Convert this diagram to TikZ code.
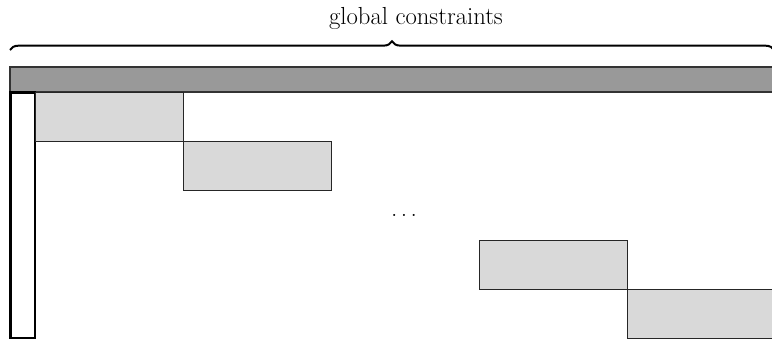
\documentclass[tikz,border=0pt]{standalone}
\usetikzlibrary{decorations.pathreplacing}
\definecolor{bargray}{HTML}{999999}
\definecolor{blockgray}{HTML}{D9D9D9}
\begin{document}
\begin{tikzpicture}[x=0.75pt,y=-0.75pt,
  bar/.style={fill=bargray,draw=black!80,line width=0.8pt},
  blockbox/.style={fill=blockgray,draw=black!85,line width=0.7pt},
  colbox/.style={draw=black,line width=1.6pt},
  lbl/.style={font=\fontsize{18.5}{22}\selectfont,inner sep=0pt}]
\useasboundingbox (0,0) rectangle (772,339);
% global constraint row
\draw[bar] (10,67) rectangle (775,92);
% linking column
\draw[colbox] (10.5,92.5) rectangle (35,338);
% diagonal blocks
\draw[blockbox] (35,92) rectangle (183,141);
\draw[blockbox] (183,141) rectangle (331,190);
\draw[blockbox] (479,240) rectangle (627,289);
\draw[blockbox] (627,289) rectangle (775,338);
\node[lbl,font=\fontsize{19}{22}\selectfont] (dots) at (404,215) {.\hspace{2.6pt}.\hspace{2.6pt}.};
% brace over the constraint row
\draw[decorate,decoration={brace,amplitude=6.5pt},line width=1.5pt]
  (10,50) -- (774,50);
\node[lbl,anchor=base] (title) at (416,25) {global constraints};
\end{tikzpicture}
\end{document}
